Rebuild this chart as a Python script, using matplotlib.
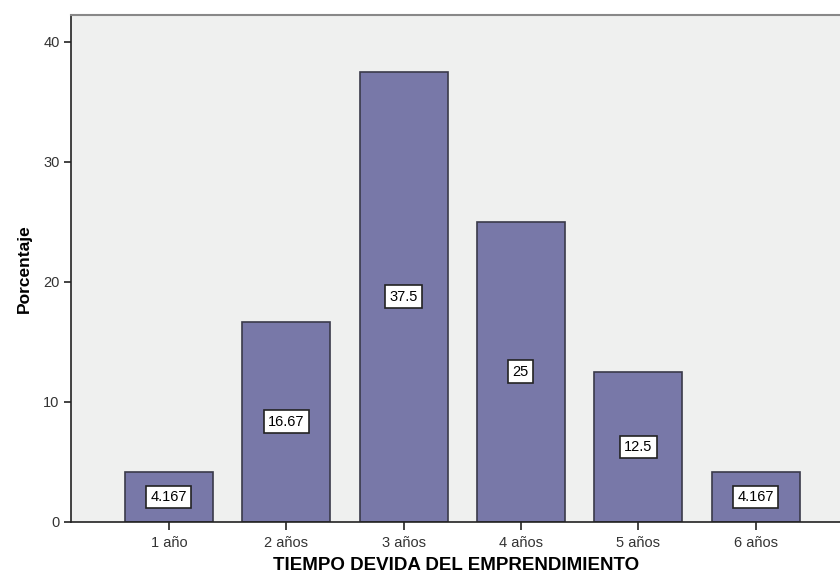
import matplotlib.pyplot as plt

categorias = ['1 año', '2 años', '3 años', '4 años', '5 años', '6 años']
porcentaje = [4.167, 16.67, 37.5, 25, 12.5, 4.167]
etiquetas = ['4.167', '16.67', '37.5', '25', '12.5', '4.167']

plt.rcParams['font.family'] = ['Liberation Sans', 'DejaVu Sans']

fig = plt.figure(figsize=(8.4, 5.76), dpi=100)
ax = fig.add_axes([0.0851, 0.0938, 0.9149, 0.880])
ax.set_facecolor('#eff0ef')

x = list(range(1, len(categorias) + 1))
ax.bar(x, porcentaje, width=0.75, color='#7878a8', edgecolor='#3a3a4a', linewidth=1.2, zorder=2)

for xi, v, t in zip(x, porcentaje, etiquetas):
    ax.text(xi, v / 2, t, ha='center', va='center', fontsize=10.5, color='black', zorder=3,
            bbox=dict(boxstyle='square,pad=0.3', facecolor='white', edgecolor='#222222', linewidth=1.2))

ax.set_xlim(0.17, 6.72)
ax.set_ylim(0, 42.2)
ax.set_xticks(x)
ax.set_xticklabels(categorias)
ax.set_yticks([0, 10, 20, 30, 40])

ax.spines['right'].set_visible(False)
ax.spines['top'].set_color('#888888')
ax.spines['top'].set_linewidth(1.5)
ax.spines['left'].set_color('#222222')
ax.spines['bottom'].set_color('#222222')
ax.spines['left'].set_linewidth(1.2)
ax.spines['bottom'].set_linewidth(1.2)

ax.tick_params(axis='both', colors='#222222', labelsize=10.5, width=1.2, length=5, labelcolor='#333333')
ax.tick_params(axis='x', pad=4, length=6)

ax.set_ylabel('Porcentaje', fontsize=12.5, fontweight='bold', labelpad=8)
ax.set_xlabel('TIEMPO DEVIDA DEL EMPRENDIMIENTO', fontsize=13.5, fontweight='bold', labelpad=5)

plt.savefig('out.png', dpi=100)
